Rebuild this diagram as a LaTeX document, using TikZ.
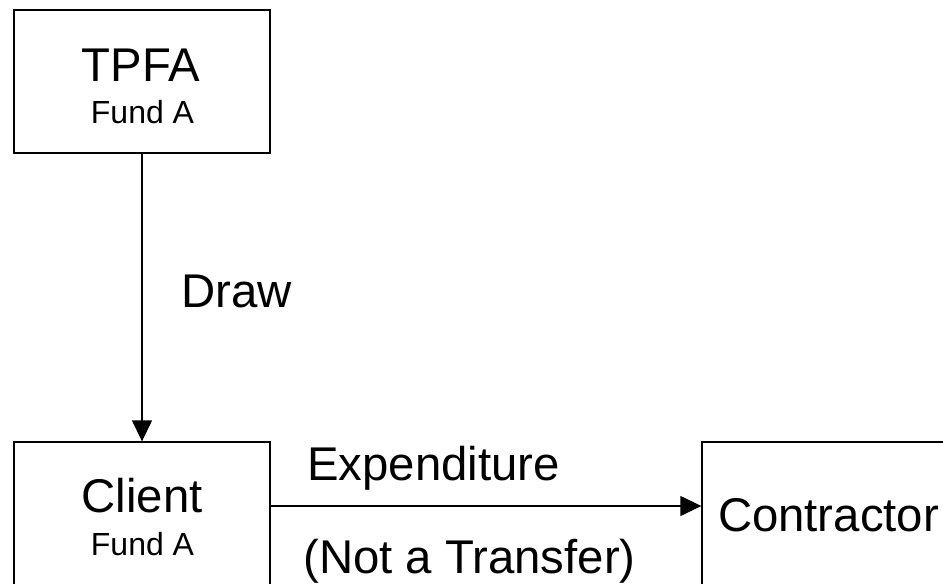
\documentclass[tikz,border=0pt]{standalone}
\usepackage{fontspec}
\setmainfont{Liberation Sans}
\usetikzlibrary{arrows.meta}
\begin{document}
\begin{tikzpicture}[x=0.75pt,y=-0.75pt,
  box/.style={draw=black, line width=1pt, fill=none, inner sep=0pt},
  big/.style={inner sep=0pt, anchor=base, font=\fontsize{35.5}{40}\selectfont},
  small/.style={inner sep=0pt, anchor=base, font=\fontsize{24}{28}\selectfont},
  conn/.style={line width=1pt, -{Triangle[length=15.75pt,width=15pt]}}]
\useasboundingbox[fill=white] (0,0) rectangle (943,583);
% boxes
\node[box, minimum width=192pt, minimum height=107.25pt] (tpfa) at (142,81.5) {};
\node[box, minimum width=192pt, minimum height=120pt] (client) at (142,522) {};
\node[box, minimum width=195pt, minimum height=120pt] (contractor) at (832,522) {};
% texts
\node[big] (tpfat) at (141,81) {TPFA};
\node[small] (tpfaf) at (142.5,123) {Fund A};
\node[big] (clientt) at (142,512) {Client};
\node[small] (clientf) at (142.5,555) {Fund A};
\node[big] (contt) at (828.5,531) {Contractor};
% connectors
\coordinate (lvl) at (0,506);
\draw[conn] (tpfa.south) -- (client.north);
\draw[conn] (client.east |- lvl) -- (contractor.west |- lvl);
% labels
\node[big, anchor=base west] (drawl) at (181,307) {Draw};
\node[big, anchor=base west] (expl) at (307,480) {Expenditure};
\node[big, anchor=base west] (notl) at (303,573) {(Not a Transfer)};
\end{tikzpicture}
\end{document}
